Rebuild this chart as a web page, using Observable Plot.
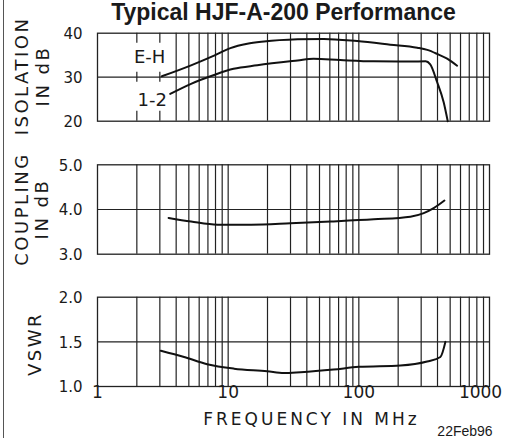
<!DOCTYPE html>
<html><head><meta charset="utf-8">
<script src="https://cdn.jsdelivr.net/npm/d3@7"></script>
<script src="https://cdn.jsdelivr.net/npm/@observablehq/plot@0.6"></script>
<style>
body{margin:0;background:#fff;}
#wrap{position:relative;width:510px;height:438px;overflow:hidden;background:#fff;color:#1a1a1a;font-family:"DejaVu Sans",sans-serif;}
.abs{position:absolute;white-space:pre;line-height:1;}
.rot{transform:translate(-50%,-50%) rotate(-90deg);text-align:center;font-size:18px;letter-spacing:2.5px;}
.ctr{transform:translateX(-50%);}
#frameLine{position:absolute;left:2.6px;top:0;width:1.5px;height:438px;background:#555;}
</style></head><body><div id="wrap"><div id="frameLine"></div></div>
<script>
// ---- data ----
const gridFreqs = [4,5,6,7,8,9,10,20,30,40,50,60,70,80,90,100,200,300,400,500,600,700,800,900];
const dashedFreqs = [2,3];
const xTickMain = [1,10,100];
const xTickLast = [1000];

const isoTicks = [20,30,40];
const isoMid = [30];
const cplTicks = [3.0,4.0,5.0];
const cplMid = [4.0];
const vswrTicks = [1.0,1.5,2.0];
const vswrMid = [1.5];

// Isolation E-H
const ehFreq = [3.1,5.2,7.8,10.4,14,18.8,34,54,97,174,280,334,397,474,565];
const ehIso  = [30.2,32.7,34.9,36.6,37.6,38.1,38.6,38.7,38.2,37.4,36.7,36.2,35.3,34.2,32.6];
// Isolation 1-2
const p12Freq = [3.6,5.2,7.8,11,16.7,34,45,72,130,250,324,352,397,446,479];
const p12Iso  = [26.2,28.5,30.5,31.9,32.7,33.8,34.2,33.9,33.6,33.55,33.6,32.9,28.9,24.3,20];
// Coupling
const cplFreq = [3.5,5.2,8.3,15,30,61,130,248,314,374,452];
const cplVal  = [3.81,3.73,3.66,3.66,3.69,3.73,3.78,3.84,3.92,4.03,4.2];
// VSWR
const vswrFreq = [3.05,4.6,6.9,11.1,19.9,26.7,35.8,64,100,208,333,421,460];
const vswrVal  = [1.40,1.33,1.25,1.20,1.17,1.15,1.16,1.19,1.22,1.235,1.28,1.33,1.50];

const seriesNames = ["E-H","1-2"];

// ---- build ----
const toRows = (fs, vs) => fs.map((f,i)=>({f, v: vs[i]}));
const ehRows = toRows(ehFreq, ehIso);
const p12Rows = toRows(p12Freq, p12Iso);
const cplRows = toRows(cplFreq, cplVal);
const vswrRows = toRows(vswrFreq, vswrVal);

const wrap = document.getElementById("wrap");
const GRID = "#222", CURVE = "#111";

function gridMarks(mid, dashed){
  const m = [
    Plot.ruleX(gridFreqs, {x: d=>d, stroke: GRID, strokeWidth: 1.2}),
    Plot.ruleY(mid, {y: d=>d, stroke: GRID, strokeWidth: 1.2}),
  ];
  if (dashed) m.push(Plot.ruleX(dashedFreqs, {x: d=>d, stroke: GRID, strokeWidth: 1.2, strokeDasharray: "10,29"}));
  else m.push(Plot.ruleX(dashedFreqs, {x: d=>d, stroke: GRID, strokeWidth: 1.2}));
  m.push(Plot.frame({stroke: GRID, strokeWidth: 1.3}));
  return m;
}
function yLabels(ticks, fmt){
  return Plot.text(ticks, {y: d=>d, frameAnchor: "left", textAnchor: "end", dx: -15, dy: 1, text: d=>fmt(d), fontSize: 15});
}
function curve(rows){
  return Plot.line(rows, {x: "f", y: "v", curve: "monotone-x", stroke: CURVE, strokeWidth: 2});
}
function panel(top, height, mt, mb, yDomain, marks){
  const svg = Plot.plot({
    width: 510, height,
    marginLeft: 97, marginRight: 21, marginTop: mt, marginBottom: mb,
    style: {fontFamily: '"DejaVu Sans", sans-serif', fontSize: "15px", color: "#1a1a1a", background: "transparent", overflow: "visible"},
    x: {type: "log", domain: [1, 1000], axis: null},
    y: {domain: yDomain, axis: null},
    marks
  });
  svg.style.position = "absolute"; svg.style.left = "0px"; svg.style.top = top + "px";
  wrap.appendChild(svg);
}

const f0 = d3.format("d"), f1 = d3.format(".1f");

panel(22, 118, 10.7, 19.3, [20, 40], [
  ...gridMarks(isoMid, true),
  yLabels(isoTicks, f0),
  curve(ehRows),
  curve(p12Rows),
  Plot.text(ehRows, Plot.selectFirst({x: "f", y: "v", text: () => seriesNames[0], dx: -12, dy: -19, fontSize: 18})),
  Plot.text(p12Rows, Plot.selectFirst({x: "f", y: "v", text: () => seriesNames[1], dx: -18, dy: 6, fontSize: 18}))
]);

panel(140, 140, 24.3, 26.3, [3, 5], [
  ...gridMarks(cplMid, false),
  yLabels(cplTicks, f1),
  curve(cplRows)
]);

panel(280, 130, 16.7, 24, [1, 2], [
  ...gridMarks(vswrMid, false),
  yLabels(vswrTicks, f1),
  curve(vswrRows),
  Plot.text(xTickMain, {x: d=>d, frameAnchor: "bottom", dy: 11, text: d=>String(d), fontSize: 17}),
  Plot.text(xTickLast, {x: d=>d, frameAnchor: "bottom", dy: 11, dx: -9, text: d=>String(d), fontSize: 17})
]);

// ---- HTML text ----
function addText(txt, css, cls){
  const d = document.createElement("div");
  d.className = "abs " + (cls||"");
  d.textContent = txt;
  Object.assign(d.style, css);
  wrap.appendChild(d);
}
addText("Typical HJF-A-200 Performance", {left: "283.5px", top: "1.2px", fontFamily: '"Liberation Sans", Arial, sans-serif', fontWeight: "bold", fontSize: "23px"}, "ctr");
addText("ISOLATION\nIN dB", {left: "32px", top: "76px", lineHeight: "21px"}, "rot");
addText("COUPLING\nIN dB", {left: "32px", top: "209px", lineHeight: "20px"}, "rot");
addText("VSWR", {left: "35px", top: "344px"}, "rot");
addText("FREQUENCY IN MHz", {left: "311.5px", top: "411.3px", fontSize: "17px", letterSpacing: "3px"}, "ctr");
addText("22Feb96", {left: "465px", top: "423.5px", fontFamily: '"Liberation Sans", Arial, sans-serif', fontSize: "14px"}, "ctr");
</script></body></html>
